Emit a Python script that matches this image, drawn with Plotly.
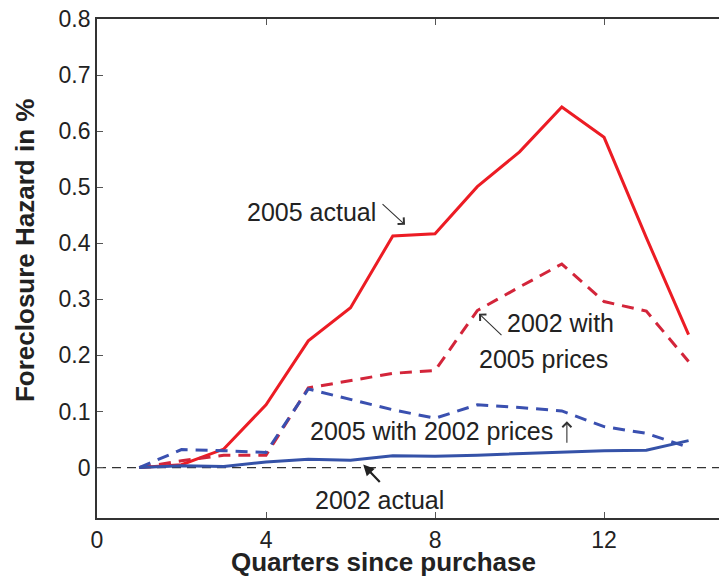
import plotly.graph_objects as go

# Quarters since purchase
quarters = [1, 2, 3, 4, 5, 6, 7, 8, 9, 10, 11, 12, 13, 14]

# Foreclosure hazard (%) by cohort / price scenario
actual_2005 = [0.0, 0.005, 0.033, 0.112, 0.226, 0.285, 0.413, 0.417, 0.501, 0.563, 0.643, 0.589, 0.41, 0.237]
with05prices_2002 = [0.0, 0.012, 0.022, 0.022, 0.142, 0.155, 0.168, 0.173, 0.280, 0.322, 0.363, 0.296, 0.279, 0.189]
with02prices_2005 = [0.0, 0.032, 0.030, 0.027, 0.140, 0.122, 0.103, 0.088, 0.112, 0.107, 0.101, 0.073, 0.061, 0.036]
actual_2002 = [0.0, 0.003, 0.002, 0.010, 0.015, 0.013, 0.021, 0.020, 0.022, 0.025, 0.027, 0.030, 0.031, 0.048]

x_ticks = [0, 4, 8, 12]
y_ticks = [0, 0.1, 0.2, 0.3, 0.4, 0.5, 0.6, 0.7, 0.8]
y_ticktext = ["0", "0.1", "0.2", "0.3", "0.4", "0.5", "0.6", "0.7", "0.8"]

RED = "#ec1c24"
RED_D = "#d3253a"
BLUE = "#3552a8"
BLUE_D = "#3a50b0"
FONT = "Liberation Sans"
TXT = "#222222"

fig = go.Figure()
fig.add_trace(go.Scatter(x=quarters, y=actual_2005, mode="lines",
                         line=dict(color=RED, width=3)))
fig.add_trace(go.Scatter(x=quarters, y=with05prices_2002, mode="lines",
                         line=dict(color=RED_D, width=3, dash="12px,8px")))
fig.add_trace(go.Scatter(x=quarters, y=with02prices_2005, mode="lines",
                         line=dict(color=BLUE_D, width=3, dash="12px,8px")))
fig.add_trace(go.Scatter(x=quarters, y=actual_2002, mode="lines",
                         line=dict(color=BLUE, width=3)))

# zero reference line
fig.add_shape(type="line", xref="paper", yref="y", x0=0, x1=1, y0=0, y1=0,
              line=dict(color="#333333", width=1.2, dash="9px,6px"), layer="below")

label_font = dict(family=FONT, size=25, color=TXT)
arrow_kw = dict(showarrow=True, arrowcolor="#333333", arrowwidth=1.1,
                arrowhead=4, arrowsize=1.6, text="")

annotations = [
    dict(x=6.65, y=0.456, text="2005 actual", xanchor="right", yanchor="middle",
         showarrow=False, font=label_font),
    dict(x=7.29, y=0.433, ax=-24, ay=-22, **arrow_kw),
    dict(x=9.66, y=0.257, text="2002 with", xanchor="left", yanchor="middle",
         showarrow=False, font=label_font),
    dict(x=9.0, y=0.194, text="2005 prices", xanchor="left", yanchor="middle",
         showarrow=False, font=label_font),
    dict(x=9.04, y=0.2745, ax=24, ay=23, **arrow_kw),
    dict(x=5.0, y=0.066, text="2005 with 2002 prices", xanchor="left", yanchor="middle",
         showarrow=False, font=label_font),
    dict(x=11.12, y=0.0825, ax=0, ay=23, **arrow_kw),
    dict(x=5.11, y=-0.058, text="2002 actual", xanchor="left", yanchor="middle",
         showarrow=False, font=label_font),
    dict(x=6.30, y=0.0053, ax=18, ay=19, text="", showarrow=True,
         arrowcolor="#222222", arrowwidth=2.2, arrowhead=2, arrowsize=1.0),
    # axis titles
    dict(xref="paper", yref="paper", x=0.461, y=-0.088, text="<b>Quarters since purchase</b>",
         showarrow=False, xanchor="center", yanchor="middle",
         font=dict(family=FONT, size=26, color=TXT)),
    dict(xref="paper", yref="paper", x=-0.1158, y=0.537, text="<b>Foreclosure Hazard in %</b>",
         showarrow=False, xanchor="center", yanchor="middle", textangle=-90,
         font=dict(family=FONT, size=26, color=TXT)),
]

fig.update_layout(
    width=719, height=580,
    margin=dict(l=97, r=0, t=19, b=62),
    paper_bgcolor="white", plot_bgcolor="white",
    showlegend=False,
    annotations=annotations,
    xaxis=dict(range=[0, 14.72], tickvals=x_ticks, ticktext=[str(v) for v in x_ticks],
               showline=True, linecolor="#333333", linewidth=1.8, mirror="ticks",
               ticks="inside", ticklen=6, tickwidth=1.2, tickcolor="#555555",
               showgrid=False, zeroline=False,
               tickfont=dict(family=FONT, size=23, color=TXT)),
    yaxis=dict(range=[-0.09, 0.8], tickvals=y_ticks, ticktext=y_ticktext,
               showline=True, linecolor="#333333", linewidth=1.8,
               ticks="inside", ticklen=6, tickwidth=1.2, tickcolor="#555555",
               showgrid=False, zeroline=False,
               tickfont=dict(family=FONT, size=23, color=TXT)),
)

fig.write_html("out.html")
